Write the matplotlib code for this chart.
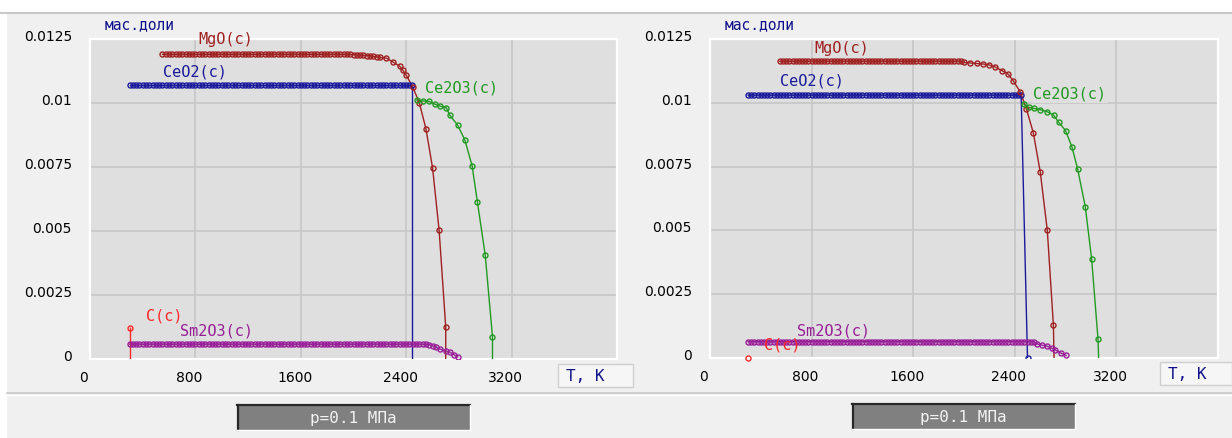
import numpy as np
import matplotlib.pyplot as plt
from matplotlib.patches import Rectangle
from matplotlib.lines import Line2D
from matplotlib.transforms import ScaledTranslation

W, H = 1232, 439

# ---- данные: левая панель ----
L_ceo2_t = list(np.arange(300, 2426, 25)) + [2445, 2445]
L_ceo2_v = [0.0107] * len(np.arange(300, 2426, 25)) + [0.0107, 0.0]

L_mgo_t = list(np.arange(550, 1976, 25)) + [2000, 2025, 2050, 2075, 2100, 2125, 2150, 2175, 2200,
                                            2250, 2300, 2350, 2375, 2400, 2450, 2500, 2550, 2600,
                                            2650, 2700, 2700]
L_mgo_v = [0.0119] * len(np.arange(550, 1976, 25)) + [0.01189, 0.01188, 0.01187, 0.01186, 0.01185,
                                                      0.01184, 0.01182, 0.0118, 0.01178, 0.01175,
                                                      0.0116, 0.01144, 0.01128, 0.01109, 0.01062,
                                                      0.0100, 0.00899, 0.00747, 0.00502, 0.00125, 0.0]

L_ce2o3_t = [2480, 2525, 2575, 2615, 2655, 2705, 2730, 2790, 2845, 2900, 2940, 3000, 3055, 3055]
L_ce2o3_v = [0.01012, 0.01008, 0.01006, 0.00996, 0.00988, 0.00981, 0.00953, 0.00914, 0.00856,
             0.00755, 0.00615, 0.00405, 0.00086, 0.0]

L_sm2o3_t = list(np.arange(300, 2551, 25)) + [2575, 2600, 2625, 2655, 2700, 2735, 2765, 2790]
L_sm2o3_v = [0.00058] * len(np.arange(300, 2551, 25)) + [0.00056, 0.00052, 0.00046, 0.00039,
                                                         0.00031, 0.00026, 0.00016, 0.00008]

L_c_t = [300, 300]
L_c_v = [0.0012, 0.0]

# ---- данные: правая панель ----
R_ceo2_t = list(np.arange(300, 2426, 25)) + [2450, 2500]
R_ceo2_v = [0.0103] * len(np.arange(300, 2426, 25)) + [0.0103, 0.0]

R_mgo_t = list(np.arange(550, 1976, 25)) + [2000, 2050, 2100, 2150, 2200, 2246, 2302, 2349, 2388,
                                            2443, 2491, 2546, 2601, 2656, 2704, 2709]
R_mgo_v = [0.01163] * len(np.arange(550, 1976, 25)) + [0.01158, 0.01156, 0.01154, 0.01152, 0.01148,
                                                       0.0114, 0.01125, 0.01112, 0.01086, 0.01043,
                                                       0.00977, 0.00882, 0.00727, 0.005, 0.00128, 0.0]

R_ce2o3_t = [2470, 2510, 2550, 2600, 2655, 2705, 2745, 2800, 2850, 2895, 2955, 3005, 3055, 3060]
R_ce2o3_v = [0.00995, 0.00982, 0.00978, 0.00973, 0.00965, 0.00952, 0.00924, 0.00891, 0.00827,
             0.0074, 0.00593, 0.00388, 0.00075, 0.0]

R_sm2o3_t = list(np.arange(300, 2551, 25)) + [2577, 2617, 2655, 2690, 2717, 2764, 2804]
R_sm2o3_v = [0.00064] * len(np.arange(300, 2551, 25)) + [0.00055, 0.0005, 0.00046, 0.00039,
                                                         0.00032, 0.00019, 0.0001]

R_c_t = [300]
R_c_v = [0.0]

x_ticks = [0, 800, 1600, 2400, 3200]
y_ticks = [0, 0.0025, 0.005, 0.0075, 0.01, 0.0125]
y_labels = ['0', '0.0025', '0.005', '0.0075', '0.01', '0.0125']

c_mgo = '#a02020'
c_ceo2 = '#1a1a9c'
c_ce2o3 = '#229a22'
c_sm2o3 = '#981e98'
c_c = '#ff2828'
navy = '#10108a'
plot_bg = '#dfdfdf'
mono = 'DejaVu Sans Mono'

fig = plt.figure(figsize=(W / 100, H / 100), dpi=100)
fig.patch.set_facecolor('#f0f0f0')


def px_rect(x, y, w, h, **kw):
    r = Rectangle((x / W, 1 - (y + h) / H), w / W, h / H, transform=fig.transFigure, **kw)
    fig.add_artist(r)


def px_line(x0, y0, x1, y1, **kw):
    fig.add_artist(Line2D([x0 / W, x1 / W], [1 - y0 / H, 1 - y1 / H], transform=fig.transFigure, **kw))


def series(ax, t, v, color, mark_last=False):
    ax.plot(t, v, color=color, lw=1.0, zorder=3)
    n = len(t) if mark_last else len(t) - 1
    ax.plot(t[:n], v[:n], ls='none', marker='o', ms=3.6, mfc='none', mec=color, mew=1.0, zorder=4)


def setup(ax):
    ax.set_facecolor(plot_bg)
    ax.set_xlim(0, 4000)
    ax.set_ylim(0, 0.0125)
    ax.set_xticks(x_ticks)
    ax.set_xticklabels([str(t) for t in x_ticks])
    ax.set_yticks(y_ticks)
    ax.set_yticklabels(y_labels)
    ax.grid(color='#c6c6c6', lw=1.2)
    ax.set_axisbelow(True)
    ax.tick_params(length=0, labelsize=10)
    ax.tick_params(axis='x', pad=8)
    ax.tick_params(axis='y', pad=13)
    for s in ax.spines.values():
        s.set_color('white')
        s.set_linewidth(1.6)
    for lab in ax.get_xticklabels():
        lab.set_transform(lab.get_transform() + ScaledTranslation(-0.06, 0, fig.dpi_scale_trans))
    for lab in ax.get_yticklabels():
        lab.set_transform(lab.get_transform() + ScaledTranslation(0, 0.045, fig.dpi_scale_trans))


def label(ax, x, y, s, color, box=False):
    kw = dict(color=color, family=mono, fontsize=11, ha='left', va='center', zorder=6)
    if box:
        kw['bbox'] = dict(fc=plot_bg, ec='none', pad=1.5)
    ax.text(x, y, s, **kw)


# рамки окна
px_rect(0, 0, W, 13, fc='white', ec='none')
px_line(0, 14, W, 14, color='#c8c8c8', lw=1.5)
px_rect(0, 14, 7, H, fc='white', ec='none')
px_line(7, 394, W, 394, color='#c8c8c8', lw=1.2)
px_line(7, 395.5, W, 395.5, color='white', lw=1.0)

axL = fig.add_axes([90 / W, 1 - 360 / H, 527 / W, 320 / H])
axR = fig.add_axes([710 / W, 1 - 359 / H, 508 / W, 319 / H])

for ax in (axL, axR):
    setup(ax)

series(axL, L_ceo2_t, L_ceo2_v, c_ceo2)
series(axL, L_mgo_t, L_mgo_v, c_mgo)
series(axL, L_ce2o3_t, L_ce2o3_v, c_ce2o3)
series(axL, L_sm2o3_t, L_sm2o3_v, c_sm2o3, mark_last=True)
series(axL, L_c_t, L_c_v, c_c)

series(axR, R_ceo2_t, R_ceo2_v, c_ceo2, mark_last=True)
series(axR, R_mgo_t, R_mgo_v, c_mgo)
series(axR, R_ce2o3_t, R_ce2o3_v, c_ce2o3)
series(axR, R_sm2o3_t, R_sm2o3_v, c_sm2o3, mark_last=True)
axR.plot(R_c_t, R_c_v, ls='none', marker='o', ms=3.6, mfc='none', mec=c_c, mew=1.0, zorder=4,
         clip_on=False)

label(axL, 820, 0.0125, 'MgO(c)', c_mgo)
label(axL, 554, 0.01125, 'CeO2(c)', c_ceo2)
label(axL, 2543, 0.01064, 'Ce2O3(c)', c_ce2o3, box=True)
label(axL, 425, 0.00172, 'C(c)', c_c)
label(axL, 683, 0.00113, 'Sm2O3(c)', c_sm2o3)
axL.text(114, 0.01309, 'мас.доли', color=navy, family=mono, fontsize=10.5, ha='left', va='center')

label(axR, 819, 0.01215, 'MgO(c)', c_mgo)
label(axR, 551, 0.01089, 'CeO2(c)', c_ceo2)
label(axR, 2543, 0.01038, 'Ce2O3(c)', c_ce2o3, box=True)
label(axR, 685, 0.0011, 'Sm2O3(c)', c_sm2o3)
label(axR, 425, 0.00055, 'C(c)', c_c)
axR.text(118, 0.01309, 'мас.доли', color=navy, family=mono, fontsize=10.5, ha='left', va='center')

# подписи оси T и кнопки давления
for bx, by, bw in [(558, 365, 75), (1160, 363, 72)]:
    px_rect(bx, by, bw, 23, fc='#f6f6f6', ec='#cfcfcf', lw=1.0)
    fig.text((bx + 8) / W, 1 - (by + 11.5) / H, 'T, K', color=navy, family=mono, fontsize=11.5,
             ha='left', va='center')

for bx, by, bw in [(237, 405, 233), (852, 404, 223)]:
    px_rect(bx, by, bw, 26, fc='#808080', ec='none')
    px_line(bx, by + 1, bx + bw, by + 1, color='#282828', lw=1.6)
    px_line(bx + 1, by + 1, bx + 1, by + 26, color='#282828', lw=1.6)
    px_line(bx, by + 26, bx + bw, by + 26, color='white', lw=1.0)
    px_line(bx + bw, by + 1, bx + bw, by + 26, color='white', lw=1.0)
    fig.text((bx + bw / 2) / W, 1 - (by + 14) / H, 'p=0.1 МПа', color='#f2f2f2', family=mono,
             fontsize=11.5, ha='center', va='center')

fig.savefig('out.png', dpi=100, facecolor=fig.get_facecolor())
